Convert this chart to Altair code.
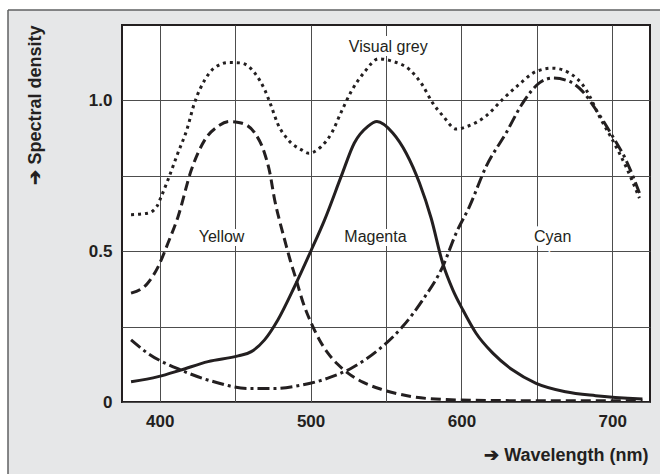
import altair as alt
import pandas as pd

# ---- data ----
grey_nm = [381, 392, 398, 401, 405.5, 412, 418, 423, 430, 436, 446, 454, 463, 469.5, 474, 478, 485, 494, 499,
           507, 514, 520, 527, 536, 545, 554, 565.6, 574, 581, 588, 596.5, 605, 616, 627, 638, 649.5, 660.5,
           671.5, 682.6, 691.4, 700, 709, 718]
grey_v = [0.621, 0.626, 0.648, 0.681, 0.737, 0.825, 0.903, 0.991, 1.069, 1.107, 1.126, 1.124, 1.091, 1.036,
          0.980, 0.925, 0.870, 0.836, 0.825, 0.847, 0.892, 0.958, 1.030, 1.096, 1.138, 1.130, 1.102, 1.052,
          0.991, 0.947, 0.905, 0.916, 0.947, 1.002, 1.052, 1.096, 1.107, 1.091, 1.036, 0.947, 0.870, 0.781, 0.676]

yellow_nm = [381, 392, 399, 405.5, 412, 421, 430, 438.6, 446.4, 454, 463, 469.5, 473, 476.2, 479.5, 482.8,
             486.5, 490.5, 495, 500.5, 506, 511.5, 518, 525, 535, 547, 567, 590, 620, 660, 720]
yellow_v = [0.361, 0.394, 0.449, 0.527, 0.612, 0.770, 0.870, 0.914, 0.930, 0.925, 0.892, 0.825, 0.76, 0.67,
            0.60, 0.538, 0.47, 0.405, 0.33, 0.261, 0.205, 0.162, 0.125, 0.095, 0.065, 0.042, 0.018, 0.008,
            0.005, 0.004, 0.004]

magenta_nm = [381, 399, 414, 432, 452, 460.7, 469.5, 478.3, 489.4, 500.5, 509.3, 520.3, 529, 538, 544,
              554.5, 563.4, 572.2, 579.9, 587.6, 594.3, 601, 609.7, 620.8, 634, 649.5, 669, 689, 720]
magenta_v = [0.067, 0.084, 0.106, 0.134, 0.153, 0.167, 0.206, 0.272, 0.383, 0.504, 0.604, 0.748, 0.859,
             0.914, 0.930, 0.892, 0.825, 0.726, 0.61, 0.460, 0.372, 0.305, 0.228, 0.162, 0.106, 0.062,
             0.034, 0.021, 0.010]

cyan_nm = [381, 392, 414, 436, 458.5, 476, 494, 511.5, 527, 545, 561, 574.4, 587.6, 596.5, 605.3, 616.4,
           629.6, 640.6, 651.7, 660.5, 671.5, 680.3, 689.2, 700.2, 709, 718]
cyan_v = [0.206, 0.162, 0.106, 0.067, 0.045, 0.045, 0.056, 0.079, 0.112, 0.173, 0.250, 0.339, 0.449, 0.560,
          0.648, 0.781, 0.892, 0.991, 1.058, 1.074, 1.063, 1.030, 0.969, 0.881, 0.803, 0.693]

label_text = ["Visual grey", "Yellow", "Magenta", "Cyan"]
label_nm = [551.5, 441, 543, 660.5]
label_v = [1.162, 0.529, 0.529, 0.529]

x_ticks = [400, 450, 500, 550, 600, 650, 700]
y_ticks = [0, 0.25, 0.5, 0.75, 1.0]

INK = "#231f20"
FONT = "Liberation Sans"

W, H = 528, 377
PAD = {"left": 122, "top": 25, "right": 10, "bottom": 72}

xs = alt.Scale(domain=[375, 725], nice=False, zero=False)
ys = alt.Scale(domain=[0, 1.25], nice=False)

x_enc = alt.X("nm:Q", scale=xs, axis=alt.Axis(
    values=x_ticks, title="➔ Wavelength (nm)",
    labelExpr="datum.value % 100 == 0 ? datum.label : ''",
    titleX=526, titleY=58, titleAlign="right", titleBaseline="alphabetic", titleAngle=0,
    labelPadding=11))
y_enc = alt.Y("v:Q", scale=ys, axis=alt.Axis(
    values=y_ticks, title="➔ Spectral density",
    labelExpr="datum.value == 0 ? '0' : (datum.value == 0.5 ? '0.5' : (datum.value == 1 ? '1.0' : ''))",
    titleAngle=270, titleX=-87, titleY=0, titleAlign="right", titleBaseline="middle",
    labelPadding=10))


def series(nm, v):
    return pd.DataFrame({"nm": nm, "v": v})


def curve(nm, v, dash=None):
    kw = dict(color=INK, strokeWidth=3, interpolate="monotone", clip=True)
    if dash:
        kw["strokeDash"] = dash
    return alt.Chart(series(nm, v)).mark_line(**kw).encode(x=x_enc, y=y_enc)


one = pd.DataFrame({"k": [0]})
# decoration: white margin strips and outer box edges
strip_top = alt.Chart(one).mark_rect(color="white").encode(
    x=alt.value(-122), x2=alt.value(W + 10), y=alt.value(-25), y2=alt.value(-15))
strip_left = alt.Chart(one).mark_rect(color="white").encode(
    x=alt.value(-122), x2=alt.value(-114), y=alt.value(-25), y2=alt.value(H + 72))
edge_top = alt.Chart(one).mark_rule(color="#5f6062", strokeWidth=1.5).encode(
    x=alt.value(-114), x2=alt.value(W + 10), y=alt.value(-15))
edge_left = alt.Chart(one).mark_rule(color="#5f6062", strokeWidth=1.5).encode(
    x=alt.value(-114), y=alt.value(-15), y2=alt.value(H + 72))

labels = pd.DataFrame({"t": label_text, "nm": label_nm, "v": label_v})
halo = alt.Chart(labels).mark_text(font=FONT, fontSize=16, color="white", stroke="white",
                                   strokeWidth=8, baseline="alphabetic").encode(
    x=alt.X("nm:Q", scale=xs), y=alt.Y("v:Q", scale=ys), text="t:N")
text = alt.Chart(labels).mark_text(font=FONT, fontSize=16, color=INK, baseline="alphabetic").encode(
    x=alt.X("nm:Q", scale=xs), y=alt.Y("v:Q", scale=ys), text="t:N")

chart = alt.layer(
    strip_top, strip_left, edge_top, edge_left,
    halo,
    curve(grey_nm, grey_v, [3, 4]),
    curve(yellow_nm, yellow_v, [10, 5]),
    curve(magenta_nm, magenta_v),
    curve(cyan_nm, cyan_v, [12, 4, 3, 4]),
    text,
).properties(
    width=W, height=H,
    autosize=alt.AutoSizeParams(type="none"),
    padding=PAD,
    background="#e6e7e8",
).configure_view(
    fill="white", stroke=INK, strokeWidth=2
).configure_axis(
    labelFont=FONT, labelFontSize=17, labelFontWeight="bold", labelColor=INK,
    titleFont=FONT, titleFontSize=18, titleFontWeight="bold", titleColor=INK,
    gridColor="#4d4d4d", gridWidth=1, ticks=False, tickSize=0, domain=False,
)

chart.save("out.html", embed_options={"renderer": "svg", "actions": False})
